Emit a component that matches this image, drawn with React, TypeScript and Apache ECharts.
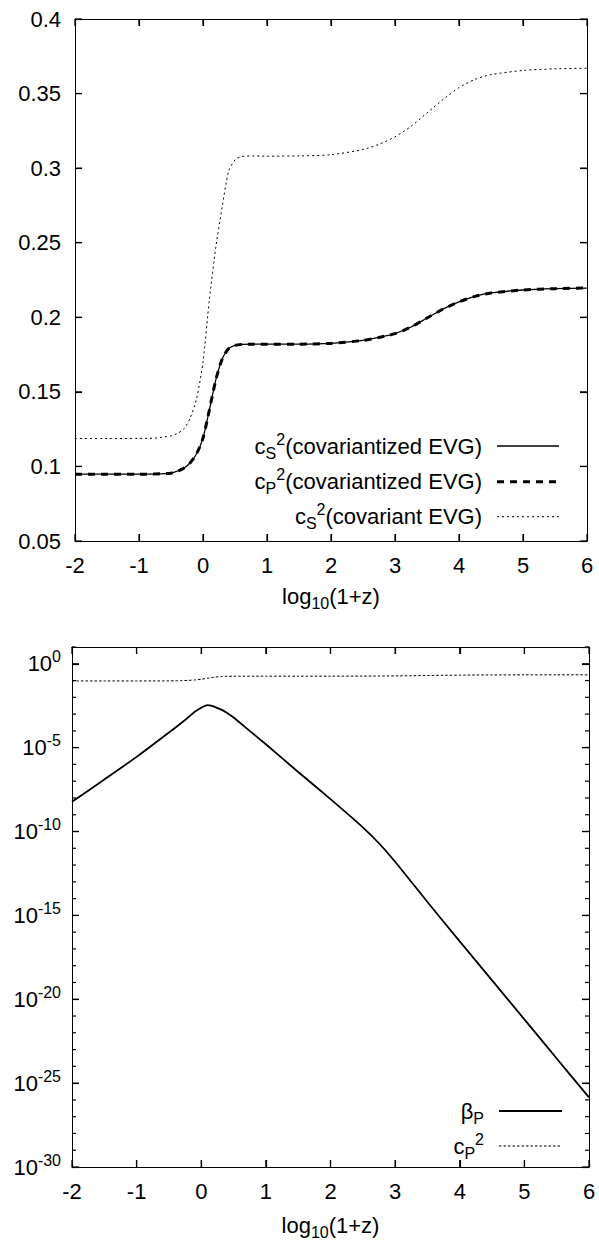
import React, { useEffect, useRef } from "react";
import * as echarts from "echarts";

const FONT = '"Liberation Sans", Arimo, Arial, Helvetica, sans-serif';

// ---------- data ----------
// top panel: x = log10(1+z)
const xTop = [-2, -1.5, -1, -0.75, -0.5, -0.4, -0.3, -0.2, -0.1, 0, 0.1, 0.2, 0.3, 0.4, 0.5, 0.6, 0.8, 1, 1.5, 2, 2.5, 2.75, 3, 3.25, 3.5, 3.75, 4, 4.25, 4.5, 5, 5.5, 6];
const cS2Covariantized = [0.0948, 0.0948, 0.0948, 0.0949, 0.0955, 0.0968, 0.0988, 0.1025, 0.1085, 0.119, 0.138, 0.158, 0.172, 0.179, 0.1812, 0.1818, 0.182, 0.182, 0.182, 0.1825, 0.1845, 0.1865, 0.189, 0.1935, 0.1995, 0.2055, 0.2103, 0.214, 0.2163, 0.2183, 0.2192, 0.2196];
const cP2Covariantized = [0.0948, 0.0948, 0.0948, 0.0949, 0.0955, 0.0968, 0.0988, 0.1025, 0.1085, 0.119, 0.138, 0.158, 0.172, 0.179, 0.1812, 0.1818, 0.182, 0.182, 0.182, 0.1825, 0.1845, 0.1865, 0.189, 0.1935, 0.1995, 0.2055, 0.2103, 0.214, 0.2163, 0.2183, 0.2192, 0.2196];
const cS2Covariant = [0.1187, 0.1187, 0.1188, 0.119, 0.1205, 0.1222, 0.125, 0.1325, 0.1455, 0.17, 0.212, 0.247, 0.274, 0.298, 0.3055, 0.3078, 0.3082, 0.308, 0.3082, 0.309, 0.3125, 0.316, 0.321, 0.328, 0.337, 0.346, 0.354, 0.3595, 0.3627, 0.3655, 0.3666, 0.367];

// bottom panel: beta_P, as log10 values
const xBottom = [-2, -1.5, -1, -0.5, -0.25, -0.1, 0, 0.05, 0.1, 0.15, 0.2, 0.3, 0.4, 0.5, 0.75, 1, 1.5, 2, 2.5, 2.75, 3, 3.5, 4, 4.5, 5, 5.5, 6];
const betaPLog10 = [-8.23, -6.9, -5.55, -4.1, -3.35, -2.86, -2.62, -2.52, -2.47, -2.49, -2.55, -2.72, -2.93, -3.2, -4.0, -4.8, -6.45, -8.07, -9.75, -10.7, -11.8, -14.2, -16.55, -18.87, -21.2, -23.53, -25.85];

// axis ranges / ticks
const xRange = [-2, 6];
const xTicks = [-2, -1, 0, 1, 2, 3, 4, 5, 6];
const topYRange = [0.05, 0.4];
const topYTicks = [0.05, 0.1, 0.15, 0.2, 0.25, 0.3, 0.35, 0.4];
const bottomYExpRange = [-30, 1];
const bottomYMajorExp = [-30, -25, -20, -15, -10, -5, 0];

// ---------- styles ----------
const black = "#000";
const MAIN = 22;
const SMALL = 16;
const rich = {
  m: { fontSize: MAIN, fontFamily: FONT, color: black, fill: black, lineHeight: 30, verticalAlign: "middle" },
  sub: { fontSize: SMALL, fontFamily: FONT, color: black, fill: black, lineHeight: 16, verticalAlign: "bottom" },
  sup: { fontSize: SMALL, fontFamily: FONT, color: black, fill: black, lineHeight: 18, verticalAlign: "top" },
};

const G0 = { left: 75, top: 19, width: 512, height: 522 };
const G1 = { left: 72, top: 647, width: 517, height: 524 };
const MAJOR = 7;
const MINOR = 4;

function pair(a: number[], b: number[]) {
  return a.map((x, i) => [x, b[i]]);
}

const nativeTick = { show: true, inside: true, length: MAJOR, lineStyle: { color: black, width: 1.2 } };

function xAxisDef(gridIndex: number, position: "top" | "bottom", nameGap: number) {
  const isBottom = position === "bottom";
  return {
    type: "value",
    gridIndex,
    position,
    min: xRange[0],
    max: xRange[1],
    interval: 1,
    axisLine: { show: true, onZero: false, lineStyle: { color: black, width: 1 } },
    axisTick: nativeTick,
    splitLine: { show: false },
    axisLabel: isBottom
      ? { show: true, fontSize: MAIN, fontFamily: FONT, color: black, margin: 13 }
      : { show: false },
    name: isBottom ? "{m|log}{sub|10}{m|(1+z)}" : undefined,
    nameLocation: "middle",
    nameGap,
    nameTextStyle: { rich },
  };
}

function yAxisDef(gridIndex: number, position: "left" | "right", range: number[], interval: number, label: any) {
  return {
    type: "value",
    gridIndex,
    position,
    min: range[0],
    max: range[1],
    interval,
    axisLine: { show: true, onZero: false, lineStyle: { color: black, width: 1 } },
    axisTick: nativeTick,
    splitLine: { show: false },
    axisLabel: label || { show: false },
  };
}

function legendRow(textRich: string, tx: number, y: number, x1: number, x2: number, style: any) {
  return [
    {
      type: "text",
      x: tx,
      y,
      z: 50,
      style: { text: textRich, rich, align: "right", verticalAlign: "middle", fill: black },
    },
    {
      type: "line",
      z: 50,
      shape: { x1, y1: y, x2, y2: y },
      style: { stroke: black, ...style },
    },
  ];
}

const solidTop = { lineWidth: 1.3 };
const dashedTop = { lineWidth: 3, lineDash: [7, 6] };
const dottedTop = { lineWidth: 1, lineDash: [2, 3] };
const solidBottom = { lineWidth: 1.8 };
const dottedBottom = { lineWidth: 1, lineDash: [2.5, 2] };

const legendElements = [
  ...legendRow("{m|c}{sub|S}{sup|2}{m|(covariantized EVG)}", 482, 446, 497, 559, solidTop),
  ...legendRow("{m|c}{sub|P}{sup|2}{m|(covariantized EVG)}", 482, 481.7, 497, 559, dashedTop),
  ...legendRow("{m|c}{sub|S}{sup|2}{m|(covariant EVG)}", 482, 516.7, 497, 559, dottedTop),
  ...legendRow("{m|β}{sub|P}", 484, 1111, 499, 562, solidBottom),
  ...legendRow("{m|c}{sub|P}{sup|2}", 484, 1146, 499, 562, dottedBottom),
];

const option: any = {
  animation: false,
  backgroundColor: "#fff",
  grid: [
    { ...G0, containLabel: false },
    { ...G1, containLabel: false },
  ],
  xAxis: [
    xAxisDef(0, "bottom", 40),
    xAxisDef(0, "top", 0),
    xAxisDef(1, "bottom", 43),
    xAxisDef(1, "top", 0),
  ],
  yAxis: [
    yAxisDef(0, "left", topYRange, 0.05, {
      show: true,
      fontSize: MAIN,
      fontFamily: FONT,
      color: black,
      margin: 14,
    }),
    yAxisDef(0, "right", topYRange, 0.05, null),
    yAxisDef(1, "left", bottomYExpRange, 5, {
      show: true,
      margin: 11,
      showMaxLabel: false,
      rich,
      formatter: (v: number) => {
        const n = Math.round(v);
        if (n % 5 !== 0) return "";
        return `{m|10}{sup|${n}}`;
      },
    }),
    yAxisDef(1, "right", bottomYExpRange, 5, null),
  ],
  series: [
    {
      name: "cS2 covariantized EVG",
      type: "line",
      xAxisIndex: 0,
      yAxisIndex: 0,
      data: pair(xTop, cS2Covariantized),
      showSymbol: false,
      symbol: "none",
      smooth: 0.25,
      lineStyle: { color: black, width: solidTop.lineWidth, type: "solid" },
    },
    {
      name: "cP2 covariantized EVG",
      type: "line",
      xAxisIndex: 0,
      yAxisIndex: 0,
      data: pair(xTop, cP2Covariantized),
      showSymbol: false,
      symbol: "none",
      smooth: 0.25,
      lineStyle: { color: black, width: dashedTop.lineWidth, type: dashedTop.lineDash },
    },
    {
      name: "cS2 covariant EVG",
      type: "line",
      xAxisIndex: 0,
      yAxisIndex: 0,
      data: pair(xTop, cS2Covariant),
      showSymbol: false,
      symbol: "none",
      smooth: 0.25,
      lineStyle: { color: black, width: dottedTop.lineWidth, type: dottedTop.lineDash },
    },
    {
      name: "betaP",
      type: "line",
      xAxisIndex: 2,
      yAxisIndex: 2,
      data: pair(xBottom, betaPLog10),
      showSymbol: false,
      symbol: "none",
      smooth: 0.2,
      lineStyle: { color: black, width: solidBottom.lineWidth, type: "solid" },
    },
    {
      name: "cP2",
      type: "line",
      xAxisIndex: 2,
      yAxisIndex: 2,
      data: xTop.map((x, i) => [x, Math.log10(cP2Covariantized[i])]),
      showSymbol: false,
      symbol: "none",
      smooth: 0.25,
      lineStyle: { color: black, width: dottedBottom.lineWidth, type: dottedBottom.lineDash },
    },
  ],
  graphic: legendElements,
};

function tickLine(x1: number, y1: number, x2: number, y2: number) {
  return {
    type: "line",
    z: 100,
    silent: true,
    shape: { x1, y1, x2, y2 },
    style: { stroke: black, lineWidth: 1.2 },
  };
}

// mirrored inward ticks (gnuplot style), positioned through the chart's own axes
function buildTicks(chart: any) {
  const els: any[] = [];
  const px = (xi: number, yi: number, x: number, y: number) => {
    const p = chart.convertToPixel({ xAxisIndex: xi, yAxisIndex: yi }, [x, y]) as number[] | null;
    return p && isFinite(p[0]) && isFinite(p[1]) ? p : null;
  };

  const panels = [
    { xi: 0, yi: 0, yr: topYRange },
    { xi: 2, yi: 2, yr: bottomYExpRange },
  ];
  panels.forEach(({ xi, yi, yr }) => {
    xTicks.forEach((v) => {
      const b = px(xi, yi, v, yr[0]);
      const t = px(xi, yi, v, yr[1]);
      if (!b || !t) return;
      els.push(tickLine(b[0], b[1], b[0], b[1] - MAJOR));
      els.push(tickLine(t[0], t[1], t[0], t[1] + MAJOR));
    });
  });

  topYTicks.forEach((v) => {
    const l = px(0, 0, xRange[0], v);
    const r = px(0, 0, xRange[1], v);
    if (!l || !r) return;
    els.push(tickLine(l[0], l[1], l[0] + MAJOR, l[1]));
    els.push(tickLine(r[0], r[1], r[0] - MAJOR, r[1]));
  });

  for (let e = bottomYExpRange[0]; e <= bottomYExpRange[1]; e++) {
    const len = bottomYMajorExp.indexOf(e) >= 0 ? MAJOR : MINOR;
    const l = px(2, 2, xRange[0], e);
    const r = px(2, 2, xRange[1], e);
    if (!l || !r) continue;
    els.push(tickLine(l[0], l[1], l[0] + len, l[1]));
    els.push(tickLine(r[0], r[1], r[0] - len, r[1]));
  }
  return els;
}

export default function App() {
  const ref = useRef<HTMLDivElement>(null);
  useEffect(() => {
    if (!ref.current) return;
    const chart = echarts.init(ref.current, null, { renderer: "svg" });
    chart.setOption(option);
    try {
      const ticks = buildTicks(chart);
      chart.setOption({ graphic: { elements: [...legendElements, ...ticks] } });
    } catch (e) {
      // keep the chart even if tick placement fails
    }
    return () => {
      chart.dispose();
    };
  }, []);
  return (
    <div
      ref={ref}
      style={{ position: "fixed", left: 0, top: 0, width: 599, height: 1241, background: "#fff" }}
    />
  );
}
